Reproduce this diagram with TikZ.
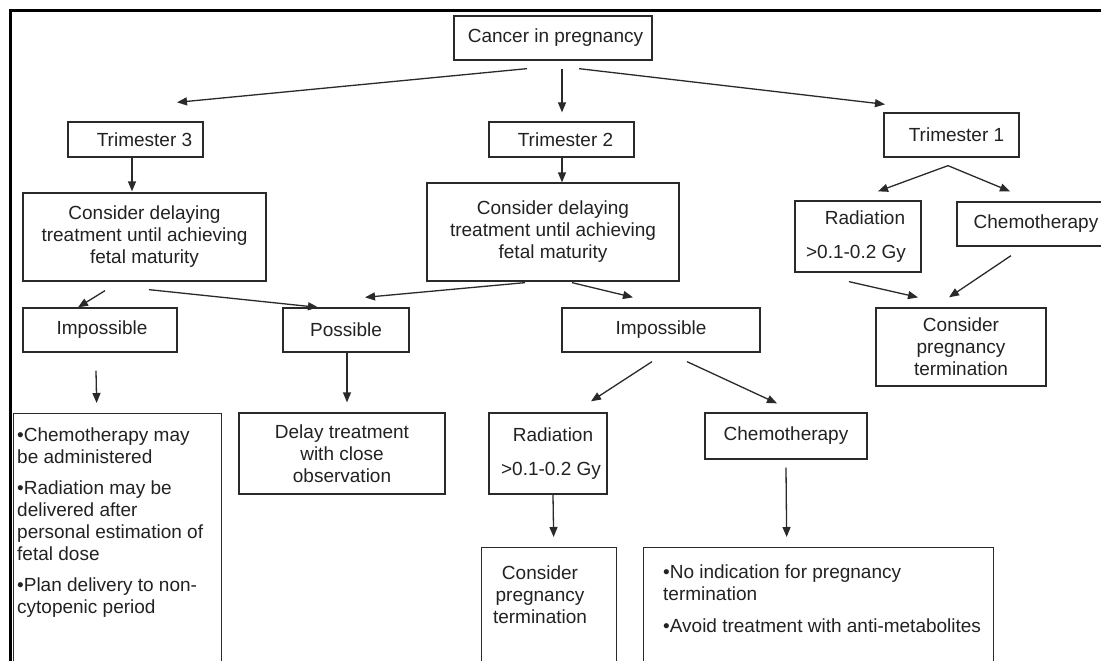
\documentclass[tikz,border=0pt]{standalone}
\usepackage{fontspec}
\setmainfont{Liberation Sans}
\usetikzlibrary{arrows.meta,calc}
\newcommand{\flowfont}{\fontsize{19}{22}\selectfont}
\definecolor{ink}{HTML}{222222}
\definecolor{linec}{HTML}{2A2A2A}
\begin{document}
\begin{tikzpicture}[x=1pt,y=-1pt,
  box/.style={draw=linec, line width=1.3pt, inner sep=0pt, font=\flowfont, align=center, text=ink},
  txt/.style={inner sep=0pt, font=\flowfont, text=ink},
  arr/.style={draw=linec, line width=1.3pt, -{Triangle[length=10pt,width=8pt]}},
  frame/.style={draw=black, line width=3pt}
]
\useasboundingbox (0,0) rectangle (1101,661);
\clip (0,0) rectangle (1101,661);
\fill[white] (0,0) rectangle (1101,661);
% outer frame
\draw[frame] (10,720) -- (10,11) -- (1120,11);

% nodes
\node[box, minimum width=198, minimum height=44] (cancer) at (553,38) {\hspace*{5pt}Cancer in pregnancy};
\node[box, minimum width=135, minimum height=35] (t3) at (135.5,139.5) {\hspace*{18pt}Trimester 3};
\node[box, minimum width=145, minimum height=35] (t2) at (561.5,139.5) {\hspace*{8pt}Trimester 2};
\node[box, minimum width=135, minimum height=44] (t1) at (951.5,135) {\hspace*{10pt}Trimester 1};

\node[box, minimum width=243, minimum height=88] (c3) at (144.5,237) {Consider delaying\\treatment until achieving\\fetal maturity};
\node[box, minimum width=252, minimum height=98] (c2) at (553,232) {Consider delaying\\treatment until achieving\\fetal maturity};
\node[box, minimum width=126, minimum height=71] (r1) at (858,236.5) {\hspace*{14pt}Radiation\\[12pt]>0.1-0.2 Gy\hspace*{4pt}};
\node[box, minimum width=158, minimum height=44] (ch1) at (1036,224) {Chemotherapy};
\node[box, minimum width=170, minimum height=78] (ct1) at (961,347) {Consider\\pregnancy\\termination};

\node[box, minimum width=154, minimum height=44] (i3) at (100,330) {\hspace*{4pt}Impossible};
\node[box, minimum width=126, minimum height=44] (pos) at (346,330) {Possible};
\node[box, minimum width=198, minimum height=44] (i2) at (661,330) {Impossible};

\node[box, anchor=north west, minimum width=208, minimum height=300] (b3) at (13,413) {};
\node[box, minimum width=206, minimum height=81] (del) at (342,453.5) {Delay treatment\\with close\\observation};
\node[box, minimum width=118, minimum height=81] (r2) at (548,453.5) {\hspace*{10pt}Radiation\\[12pt]\hspace*{6pt}>0.1-0.2 Gy};
\node[box, minimum width=162, minimum height=46] (ch2) at (786,436) {Chemotherapy};
\node[box, anchor=north west, minimum width=135, minimum height=200] (ct2) at (481,547) {};
\node[box, anchor=north west, minimum width=350, minimum height=200] (b2) at (643,547) {};

% texts of the cut-off boxes
\node[txt, anchor=north west, align=left] (b3t) at (17,428) {•Chemotherapy may\\be administered\\[9pt]•Radiation may be\\delivered after\\personal estimation of\\fetal dose\\[9pt]•Plan delivery to non-\\cytopenic period};
\node[txt, anchor=north, align=center] (ct2t) at (540,566) {Consider\\pregnancy\\termination};
\node[txt, anchor=north west, align=left] (b2t) at (663,565) {•No indication for pregnancy\\termination\\[10pt]•Avoid treatment with anti-metabolites};

% connectors
\draw[arr] ($(cancer.south)+(-26,8)$) -- ($(t3.north)+(41.5,-19)$);
\draw[arr] ($(cancer.south)+(9,8)$) -- ($(t2.north)+(0.5,-9)$);
\draw[arr] ($(cancer.south)+(26,8)$) -- ($(t1.north)+(-66.5,-8)$);
\draw[arr] ($(t3.south)+(-3.5,0)$) -- ($(c3.north)+(-12.5,-1)$);
\draw[arr] ($(t2.south)+(0.5,0)$) -- ($(c2.north)+(9,0)$);
\draw[arr] ($(t1.south)+(-3.5,8)$) -- ($(r1.north)+(20,-9)$);
\draw[arr] ($(t1.south)+(-3.5,8)$) -- ($(ch1.north)+(-26,-10)$);
\draw[arr] ($(r1.south)+(-9,9)$) -- ($(ct1.north)+(-43,-10)$);
\draw[arr] ($(ch1.south)+(-25,9)$) -- ($(ct1.north)+(-12,-10)$);
\draw[arr] ($(c3.south)+(-39.5,9)$) -- ($(i3.north)+(-22,0)$);
\draw[arr] ($(c3.south)+(4.5,8)$) -- ($(pos.north)+(-28,0)$);
\draw[arr] ($(c2.south)+(-28,1)$) -- ($(pos.north)+(19,-10)$);
\draw[arr] ($(c2.south)+(19,1)$) -- ($(i2.north)+(-28,-10)$);
\draw[arr] ($(i3.south)+(-4,18)$) -- ($(b3.north)+(-21,-10)$);
\draw[arr] ($(pos.south)+(1,0)$) -- ($(del.north)+(5,-10)$);
\draw[arr] ($(i2.south)+(-9,9)$) -- ($(r2.north)+(43,-11)$);
\draw[arr] ($(i2.south)+(26,9)$) -- ($(ch2.north)+(-9,-9)$);
\draw[arr] ($(r2.south)+(5,0)$) -- ($(ct2.north)+(4.5,-10)$);
\draw[arr] ($(ch2.south)+(0,8)$) -- ($(b2.north)+(-32,-10)$);
\end{tikzpicture}
\end{document}
